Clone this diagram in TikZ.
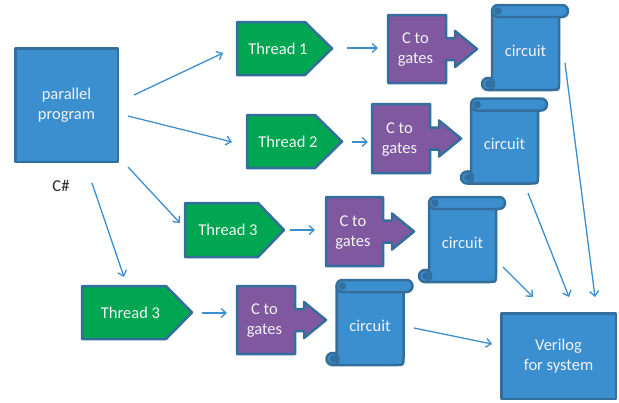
\documentclass[tikz,border=0pt]{standalone}
\usepackage{fontspec}
\setmainfont{Carlito}
\usetikzlibrary{arrows.meta,calc}
\definecolor{boxblue}{RGB}{59,143,206}
\definecolor{edgeblue}{RGB}{52,110,156}
\definecolor{curlblue}{RGB}{46,112,168}
\definecolor{thgreen}{RGB}{0,166,81}
\definecolor{cpurple}{RGB}{128,88,160}
\definecolor{arrblue}{RGB}{58,143,208}
\definecolor{txt}{RGB}{242,242,246}
\tikzset{
 shp/.style={draw=edgeblue, line width=2.5pt, line join=round},
 bluebox/.style={shp, fill=boxblue},
 lbl/.style={text=txt, font=\fontsize{16.5}{20}\selectfont, align=center, inner sep=0pt},
 frame/.style={inner sep=0pt, outer sep=0pt, rectangle},
 arr/.style={draw=arrblue, line width=1.3pt, -{Straight Barb[length=5pt,width=9pt]}},
}
\newcommand\pentashape[2]{%
 \filldraw[shp, fill=thgreen] (#1.north west) -- ($(#1.north east)+(-#2,0)$) -- (#1.east)
   -- ($(#1.south east)+(-#2,0)$) -- (#1.south west) -- cycle;}
\newcommand\calloutshape[1]{%
 \filldraw[shp, fill=cpurple] (#1.north west) -- (#1.north east) -- ($(#1.east)+(0,-11)$)
   -- ($(#1.east)+(9,-11)$) -- ($(#1.east)+(9,-18)$) -- ($(#1.east)+(31,0)$)
   -- ($(#1.east)+(9,18)$) -- ($(#1.east)+(9,11)$) -- ($(#1.east)+(0,11)$)
   -- (#1.south east) -- (#1.south west) -- cycle;}
\newcommand\scrollshape[1]{%
 \begin{scope}[shift={(#1.north west)}]
  \filldraw[shp, fill=boxblue] (10,6) -- (77,6) -- (77,78) .. controls (77,85) .. (70,85)
    -- (6,85) -- (6,73) -- (10,73) -- cycle;
  \filldraw[shp, fill=boxblue, rounded corners=5.9pt] (10,0) rectangle (86,12);
  \filldraw[draw=edgeblue, line width=1.5pt, fill=curlblue] (16,6) circle (3);
  \filldraw[shp, fill=boxblue] (6,79) circle (6);
  \filldraw[draw=edgeblue, line width=1.5pt, fill=curlblue] (7,79) circle (3);
 \end{scope}}
\begin{document}
\begin{tikzpicture}[x=1pt,y=-1pt]
\useasboundingbox (0,0) rectangle (619,402);

% source
\node[frame, bluebox, lbl, minimum width=102.5pt, minimum height=113.5pt] (par) at (66.5,105) {parallel\\program};
\node[font=\fontsize{16.5}{20}\selectfont, text=black!85, inner sep=0pt] (cs) at (61,186) {C\#};

% threads
\node[frame, minimum width=95pt, minimum height=53pt] (t1) at (284.5,48.5) {};
\node[frame, minimum width=95pt, minimum height=53pt] (t2) at (294.5,141.5) {};
\node[frame, minimum width=99pt, minimum height=54pt] (t3) at (234.5,230) {};
\node[frame, minimum width=110pt, minimum height=53pt] (t4) at (137,312.5) {};
\pentashape{t1}{27}
\pentashape{t2}{27}
\pentashape{t3}{26}
\pentashape{t4}{26}
\node[lbl] (t1l) at ($(t1)+(-6.5,0)$) {Thread 1};
\node[lbl] (t2l) at ($(t2)+(-6.5,0)$) {Thread 2};
\node[lbl] (t3l) at ($(t3)+(-6.5,0)$) {Thread 3};
\node[lbl] (t4l) at ($(t4)+(-6.5,0)$) {Thread 3};

% C to gates
\node[frame, minimum width=58pt, minimum height=68pt] (c1) at (417,49) {};
\node[frame, minimum width=58pt, minimum height=69pt] (c2) at (401,138.5) {};
\node[frame, minimum width=57pt, minimum height=69pt] (c3) at (354.5,231.5) {};
\node[frame, minimum width=58pt, minimum height=68pt] (c4) at (266,320) {};
\calloutshape{c1}
\calloutshape{c2}
\calloutshape{c3}
\calloutshape{c4}
\node[lbl] (c1l) at ($(c1)+(-1.5,1)$) {C to\\gates};
\node[lbl] (c2l) at ($(c2)+(-1.5,1)$) {C to\\gates};
\node[lbl] (c3l) at ($(c3)+(-1.5,1)$) {C to\\gates};
\node[lbl] (c4l) at ($(c4)+(-1.5,1)$) {C to\\gates};

% circuits
\node[frame, minimum width=88pt, minimum height=85pt] (s1) at (526,47.5) {};
\node[frame, minimum width=88pt, minimum height=85pt] (s2) at (505,141) {};
\node[frame, minimum width=88pt, minimum height=85pt] (s3) at (463,239.5) {};
\node[frame, minimum width=88pt, minimum height=85pt] (s4) at (370.5,322.5) {};
\scrollshape{s1}
\scrollshape{s2}
\scrollshape{s3}
\scrollshape{s4}
\node[lbl] (s1l) at ($(s1)+(-0.5,3)$) {circuit};
\node[lbl] (s2l) at ($(s2)+(-0.5,3)$) {circuit};
\node[lbl] (s3l) at ($(s3)+(-0.5,3)$) {circuit};
\node[lbl] (s4l) at ($(s4)+(-0.5,3)$) {circuit};

% verilog
\node[frame, bluebox, lbl, minimum width=114.5pt, minimum height=85.5pt] (ver) at (558.5,356) {Verilog\\for system};

% connectors
\draw[arr] ($(par)+(67.5,-10)$) -- ($(t1)+(-61.5,4.5)$);
\draw[arr] ($(par)+(61.5,11)$) -- ($(t2)+(-62.5,0.5)$);
\draw[arr] ($(par)+(61.5,62)$) -- ($(t3)+(-54.5,-7)$);
\draw[arr] ($(par)+(25.5,78)$) -- ($(t4)+(-13,-35.5)$);
\draw[arr] ($(t1)+(62.5,-0.5)$) -- ($(c1)+(-39,-1)$);
\draw[arr] ($(t2)+(57.5,0.5)$) -- ($(c2)+(-33,3.5)$);
\draw[arr] ($(t3)+(55.5,0)$) -- ($(c3)+(-39.5,-1.5)$);
\draw[arr] ($(t4)+(65,0.5)$) -- ($(c4)+(-39,-7)$);
\draw[arr] ($(s1)+(39,15.5)$) -- ($(ver)+(36.5,-59)$);
\draw[arr] ($(s2)+(23,52)$) -- ($(ver)+(10.5,-59)$);
\draw[arr] ($(s3)+(40,27.5)$) -- ($(ver)+(-25.5,-59)$);
\draw[arr] ($(s4)+(43.5,5.5)$) -- ($(ver)+(-66.5,-12)$);
\end{tikzpicture}
\end{document}
